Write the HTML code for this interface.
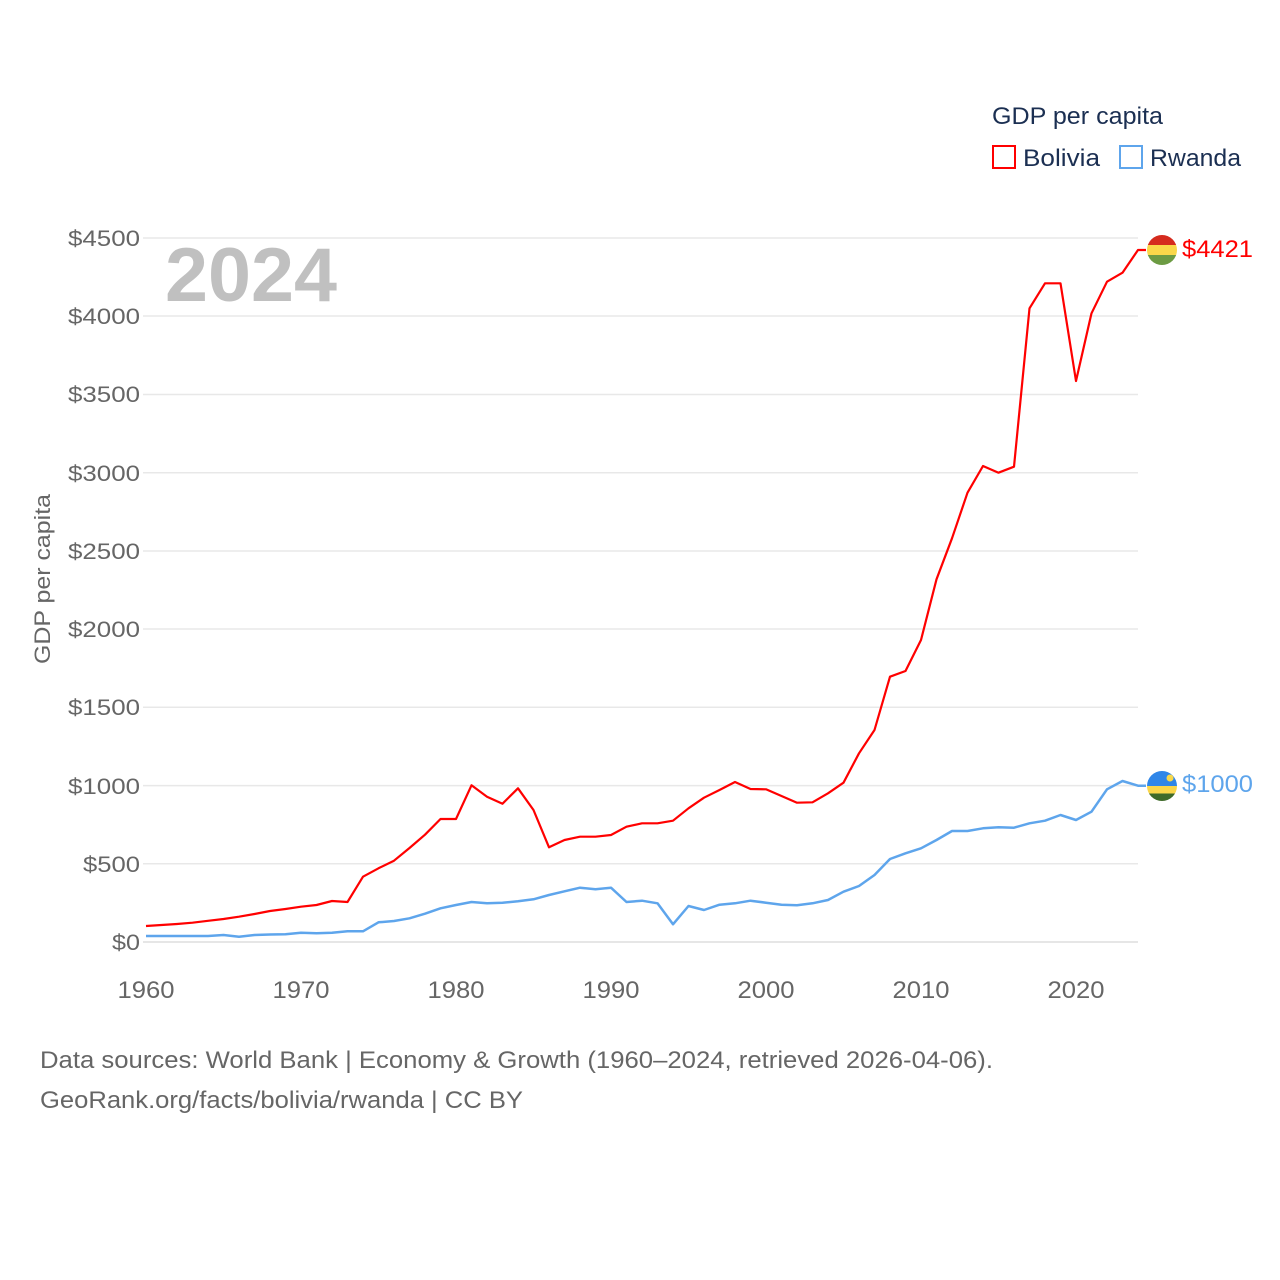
<!DOCTYPE html>
<html><head><meta charset="utf-8">
<style>
html,body{margin:0;padding:0;background:#fff;}
svg{display:block;}
text{font-family:"Liberation Sans",sans-serif;}
</style></head>
<body>
<svg width="1280" height="1280" viewBox="0 0 1280 1280" xmlns="http://www.w3.org/2000/svg">
<rect width="1280" height="1280" fill="#fff"/>
<g stroke="#e8e8e8" stroke-width="1.5">
<line x1="143" y1="238" x2="1138" y2="238"/>
<line x1="143" y1="316" x2="1138" y2="316"/>
<line x1="143" y1="394.5" x2="1138" y2="394.5"/>
<line x1="143" y1="472.7" x2="1138" y2="472.7"/>
<line x1="143" y1="551" x2="1138" y2="551"/>
<line x1="143" y1="629" x2="1138" y2="629"/>
<line x1="143" y1="707.3" x2="1138" y2="707.3"/>
<line x1="143" y1="785.6" x2="1138" y2="785.6"/>
<line x1="143" y1="863.8" x2="1138" y2="863.8"/>
</g>
<line x1="143" y1="942" x2="1138" y2="942" stroke="#e6e6e6" stroke-width="2"/>
<g fill="#666" font-size="22" text-anchor="end">
<text x="140" y="246" textLength="72" lengthAdjust="spacingAndGlyphs">$4500</text>
<text x="140" y="324" textLength="72" lengthAdjust="spacingAndGlyphs">$4000</text>
<text x="140" y="402" textLength="72" lengthAdjust="spacingAndGlyphs">$3500</text>
<text x="140" y="481" textLength="72" lengthAdjust="spacingAndGlyphs">$3000</text>
<text x="140" y="559" textLength="72" lengthAdjust="spacingAndGlyphs">$2500</text>
<text x="140" y="637" textLength="72" lengthAdjust="spacingAndGlyphs">$2000</text>
<text x="140" y="715" textLength="72" lengthAdjust="spacingAndGlyphs">$1500</text>
<text x="140" y="794" textLength="72" lengthAdjust="spacingAndGlyphs">$1000</text>
<text x="140" y="872" textLength="57" lengthAdjust="spacingAndGlyphs">$500</text>
<text x="140" y="950" textLength="28" lengthAdjust="spacingAndGlyphs">$0</text>
</g>
<g fill="#666" font-size="24" text-anchor="middle">
<text x="146" y="998" textLength="57" lengthAdjust="spacingAndGlyphs">1960</text>
<text x="301" y="998" textLength="57" lengthAdjust="spacingAndGlyphs">1970</text>
<text x="456" y="998" textLength="57" lengthAdjust="spacingAndGlyphs">1980</text>
<text x="611" y="998" textLength="57" lengthAdjust="spacingAndGlyphs">1990</text>
<text x="766" y="998" textLength="57" lengthAdjust="spacingAndGlyphs">2000</text>
<text x="921" y="998" textLength="57" lengthAdjust="spacingAndGlyphs">2010</text>
<text x="1076" y="998" textLength="57" lengthAdjust="spacingAndGlyphs">2020</text>
</g>
<text transform="translate(50,579) rotate(-90)" fill="#666" font-size="22" text-anchor="middle" textLength="170" lengthAdjust="spacingAndGlyphs">GDP per capita</text>
<text x="165" y="301" fill="#c0c0c0" font-size="76" font-weight="bold" textLength="172" lengthAdjust="spacingAndGlyphs">2024</text>
<polyline fill="none" stroke="#5ea5ec" stroke-width="2.5" stroke-linejoin="round" points="
146,936 161.5,936 177,936 192.5,936 208,936 223.5,935 239,936.7 254.5,935 270,934.5 285.5,934.3 301,932.7 316.5,933.3 332,932.7 347.5,931.3 363,931.3 378.5,922.3 394,921 409.5,918.3 425,913.7 440.5,908.3 456,905 471.5,902 487,903.3 502.5,902.7 518,901.3 533.5,899.3 549,895 564.5,891.3 580,887.7 595.5,889.3 611,887.7 626.5,902 642,900.7 657.5,903.3 673,924.3 688.5,906 704,910 719.5,904.7 735,903.3 750.5,900.7 766,902.7 781.5,904.7 797,905.3 812.5,903.3 828,900 843.5,891.7 859,886 874.5,875 890,859 905.5,853.3 921,848.3 936.5,840 952,831 967.5,831 983,828.3 998.5,827.3 1014,827.7 1029.5,823.3 1045,820.7 1060.5,815 1076,820 1091.5,811.7 1107,789.3 1122.5,781 1138,785.7 1146,785.7"/>
<polyline fill="none" stroke="#ff0000" stroke-width="2.2" stroke-linejoin="round" points="
146,926 161.5,925 177,924 192.5,922.7 208,920.8 223.5,919 239,916.7 254.5,914 270,911 285.5,909 301,906.7 316.5,905 332,901 347.5,902 363,876.7 378.5,868.3 394,860.7 409.5,848 425,834.7 440.5,819 456,819 471.5,785.3 487,796.7 502.5,803.7 518,788.3 533.5,810 549,847.3 564.5,840 580,836.7 595.5,836.7 611,835 626.5,826.7 642,823.3 657.5,823.3 673,820.7 688.5,808.3 704,797.7 719.5,790 735,782 750.5,789 766,789.3 781.5,796 797,802.7 812.5,802.3 828,793.3 843.5,782.7 859,753.3 874.5,730 890,676.7 905.5,671 921,640 936.5,579.3 952,538.3 967.5,492.7 983,466 998.5,472.7 1014,466.7 1029.5,308.3 1045,283.3 1060.5,283.3 1076,381 1091.5,313.3 1107,281.7 1122.5,272.7 1138,250 1146,250"/>
<defs>
<clipPath id="cb"><circle cx="1162" cy="250" r="15"/></clipPath>
<clipPath id="cr"><circle cx="1162" cy="786" r="15"/></clipPath>
</defs>
<g clip-path="url(#cb)">
<rect x="1147" y="235" width="30" height="10" fill="#d52b1e"/>
<rect x="1147" y="245" width="30" height="10" fill="#f9d84a"/>
<rect x="1147" y="255" width="30" height="10" fill="#6c9b43"/>
</g>
<g clip-path="url(#cr)">
<rect x="1147" y="771" width="30" height="15" fill="#2f86e8"/>
<rect x="1147" y="786" width="30" height="7.5" fill="#fad64a"/>
<rect x="1147" y="793.5" width="30" height="7.5" fill="#3f6a2a"/>
<circle cx="1170" cy="778" r="3.5" fill="#f9d84a"/>
</g>
<text x="1182" y="257" fill="#ff0000" font-size="24" textLength="71" lengthAdjust="spacingAndGlyphs">$4421</text>
<text x="1182" y="792" fill="#5ea5ec" font-size="24" textLength="71" lengthAdjust="spacingAndGlyphs">$1000</text>
<text x="992" y="124" fill="#1b2f52" font-size="24" textLength="171" lengthAdjust="spacingAndGlyphs">GDP per capita</text>
<rect x="993" y="146" width="22" height="22" fill="none" stroke="#ff0000" stroke-width="2"/>
<text x="1023" y="166" fill="#1b2f52" font-size="24" textLength="77" lengthAdjust="spacingAndGlyphs">Bolivia</text>
<rect x="1120" y="146" width="22" height="22" fill="none" stroke="#5ea5ec" stroke-width="2"/>
<text x="1150" y="166" fill="#1b2f52" font-size="24" textLength="91" lengthAdjust="spacingAndGlyphs">Rwanda</text>
<text x="40" y="1068" fill="#666" font-size="24" textLength="953" lengthAdjust="spacingAndGlyphs">Data sources: World Bank | Economy &amp; Growth (1960–2024, retrieved 2026-04-06).</text>
<text x="40" y="1108" fill="#666" font-size="24" textLength="483" lengthAdjust="spacingAndGlyphs">GeoRank.org/facts/bolivia/rwanda | CC BY</text>
</svg>
</body></html>
